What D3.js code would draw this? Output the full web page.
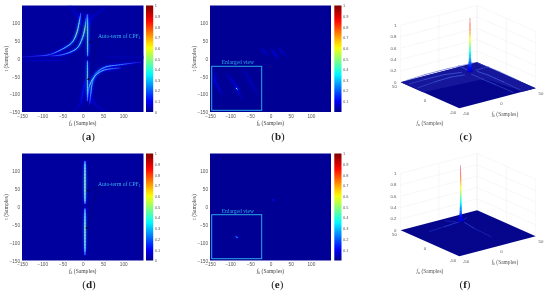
<!DOCTYPE html>
<html><head><meta charset="utf-8">
<script src="https://cdnjs.cloudflare.com/ajax/libs/d3/7.8.5/d3.min.js"></script>
<style>html,body{margin:0;padding:0;background:#fff;overflow:hidden}svg{display:block;filter:blur(.3px)}</style>
</head><body><svg id="c" width="550" height="296"></svg>
<script>
// ---------- data ----------
const xTickValues = [-150,-100,-50,0,50,100];
const yTickValues = [100,50,0,-50,-100,-150];
const cbTicksFull = [0,.1,.2,.3,.4,.5,.6,.7,.8,.9,1];
const cbTicksNoZero = [.1,.2,.3,.4,.5,.6,.7,.8,.9,1];
const zTicks = [0,.2,.4,.6,.8,1];
const captions = ["(a)","(b)","(c)","(d)","(e)","(f)"];

// panel (a) curves: [fx, t, value]
const aVertTop = [[12,125,.18],[12,105,.36],[12,80,.5],[12,50,.44],[12,25,.4],[12,8,.28]];
const aVertBot = [[11.5,-6,.28],[11.5,-30,.4],[11.5,-60,.44],[11.5,-90,.38],[11.5,-119,.18]];
const aTopOuter = [[-150,5,.05],[-110,8,.11],[-81,12,.2],[-40,34,.33],[-25,48,.38],[-15,72,.52],[-8.5,104,.42],[-5,128,.16]];
const aTopInner = [[-80,8,.09],[-48,12,.22],[-15,29,.36],[-2.6,53,.42],[5.5,86,.58],[9.7,123,.2]];
const aBotOuter = [[145,-9,.05],[92,-17,.22],[55,-24,.33],[34,-40,.4],[24.5,-63,.4],[19.5,-101,.28],[17,-128,.1]];
const aBotInner = [[92,-26,.13],[50,-33,.3],[30,-49,.37],[16,-78,.42],[12.5,-110,.24]];
const aFaint = [
  [[-31,147,.06],[-20,130,.08],[-11,118,.12],[-5,95,.1]],
  [[55,144,.06],[34,126,.08],[22,114,.11],[16,95,.1]],
  [[5.5,-63,.12],[-1,-101,.14],[-7,-129,.09],[-20,-147,.05]],
  [[17,-90,.09],[26,-120,.1],[42,-139,.07],[60,-148,.04]],
  [[-150,-5,.05],[-90,-5,.06],[-40,-5,.05]],
  [[60,5,.04],[100,5,.05],[150,4,.04]]
];
// panel (d) curves
const dVertTop = [[5.5,128,.2],[5.5,115,.36],[5.5,90,.45],[5.5,60,.5],[5.5,35,.44],[5.5,20,.36],[5.5,10,.2]];
const dVertBot = [[5.5,-5,.22],[5.5,-25,.34],[5.5,-60,.48],[5.5,-95,.42],[5.5,-118,.34],[5.5,-134,.14]];
// panels (b),(e) residual streaks: [fx, t, value]
const bStreaks = [
  [[-22,28,.05],[-16,20,.09],[-8,10,.05]],
  [[2,26,.05],[11,13,.12],[18,2,.05]],
  [[22,30,.05],[28,20,.08],[38,8,.05]]
];
const bStreaksInset = [
  [[-16,32,.05],[-14,20,.11],[-6,6,.05]],
  [[-1,30,.05],[9,18,.11],[16,2,.05]],
  [[20,36,.04],[27,22,.07],[36,6,.04]]
];
const bSpotInset = [[10.5,13.5,.3],[11,13,.4],[11.5,12.5,.3]];
const eSpot = [[6.8,20,.12],[7,19.5,.18],[7.2,19,.12]];
const eSpotInset = [[10.6,13.4,.25],[11,13,.34],[11.4,12.6,.25]];
// 3D panels: spike profile [z, half-width in samples], ridges [fx, fa, z]
const cSpike = [[.05,7],[.1,4.5],[.15,3.4],[.25,2.6],[.4,1.9],[.6,1.3],[.8,.8],[1,.25]];
const fSpike = [[.04,8],[.08,5],[.12,3.2],[.2,2.4],[.35,1.8],[.55,1.3],[.75,.9],[1.03,.25]];
const cPeak = [20.6,23.8], fPeak = [11,27];
const cRidges = [
  [[20,20,.03],[19,0,.04],[20,-20,.035],[22,-48,.02]],
  [[29,22,.04],[30,5,.05],[31,-20,.04],[32,-48,.02]],
  [[12,22,.04],[-5,24,.05],[-25,24,.04],[-48,23,.02]],
  [[14,30,.04],[-5,34,.05],[-30,36,.04],[-48,38,.02]],
  [[22,28,.05],[24,40,.04],[25,49,.03]],
  [[30,26,.04],[40,28,.03],[49,29,.02]],
  [[-45,48,.02],[-20,49,.03],[10,49,.03],[45,48,.02]],
  [[47,45,.02],[48,10,.03],[48,-25,.02]]
];
const cLightPatch = [[-50,50],[50,50],[50,-50],[34,-50],[25,5],[-50,12]];
const fRidges = [
  [[10,27,.05],[-10,27,.03],[-30,27,.015]],
  [[12,22,.05],[11,5,.03],[11,-25,.015]],
  [[14,30,.03],[26,36,.015]],
  [[8,32,.03],[3,42,.012]]
];
// ---------- helpers ----------
const jet = d3.scaleLinear().domain([0,.11,.36,.61,.86,1])
  .range(["#00008f","#0000ff","#00ffff","#ffff00","#ff0000","#800000"]).clamp(true);
const svg = d3.select("#c");
const defs = svg.append("defs");
[["g1",.8],["g2",.5],["g3",.25]].forEach(([id,s])=>{
  defs.append("filter").attr("id",id).attr("filterUnits","userSpaceOnUse").attr("x",0).attr("y",0).attr("width",550).attr("height",296)
  .append("feGaussianBlur").attr("stdDeviation",s);
});
const grad = defs.append("linearGradient").attr("id","jetg").attr("x1",0).attr("x2",0).attr("y1",1).attr("y2",0);
d3.range(0,1.001,.05).forEach(v=>grad.append("stop").attr("offset",v).attr("stop-color",jet(v)));

function drawCurve(g,pts,x,y,opts){
  const o=Object.assign({glow:2,core:.6,white:.45},opts);
  const line=d3.line().x(d=>x(d[0])).y(d=>y(d[1])).curve(d3.curveCatmullRom.alpha(.5));
  const tmp=g.append("path").attr("d",line(pts)).attr("fill","none");
  const len=tmp.node().getTotalLength();
  const chord=[0];
  for(let i=1;i<pts.length;i++)chord.push(chord[i-1]+Math.hypot(x(pts[i][0])-x(pts[i-1][0]),y(pts[i][1])-y(pts[i-1][1])));
  const val=d3.scaleLinear().domain(chord.map(c=>c/chord[chord.length-1]*len)).range(pts.map(p=>p[2]));
  const n=Math.max(2,Math.ceil(len/1.5));
  const gl=g.append("g").attr("filter","url(#g1)"),co=g.append("g").attr("filter","url(#g3)");
  for(let i=0;i<n;i++){
    const a=tmp.node().getPointAtLength(len*i/n),b=tmp.node().getPointAtLength(len*(i+1)/n),v=val(len*(i+.5)/n);
    gl.append("line").attr("x1",a.x).attr("y1",a.y).attr("x2",b.x).attr("y2",b.y)
      .attr("stroke",jet(v*.45)).attr("stroke-width",o.glow).attr("stroke-linecap","round");
    co.append("line").attr("x1",a.x).attr("y1",a.y).attr("x2",b.x).attr("y2",b.y)
      .attr("stroke",d3.interpolateRgb(jet(v),"#fff")(o.white*Math.min(1,v*3))).attr("stroke-width",o.core).attr("stroke-linecap","round");
  }
  tmp.remove();
}
let clipId=0;
function panel2D(L,T,W,H,cbX,cbTicks,bg){
  const g=svg.append("g");
  const x=d3.scaleLinear().domain([-150,150]).range([L,L+W]);
  const y=d3.scaleLinear().domain([-150,150]).range([T+H,T]);
  const id="clip"+(clipId++);
  defs.append("clipPath").attr("id",id).append("rect").attr("x",L).attr("y",T).attr("width",W).attr("height",H);
  g.append("rect").attr("x",L).attr("y",T).attr("width",W).attr("height",H).attr("fill",bg);
  const plot=g.append("g").attr("clip-path",`url(#${id})`);
  const ax=g.append("g").attr("transform",`translate(0,${T+H})`).call(d3.axisBottom(x).tickValues(xTickValues).tickSize(0).tickPadding(2.5).tickFormat(d3.format("d")));
  const ay=g.append("g").attr("transform",`translate(${L},0)`).call(d3.axisLeft(y).tickValues(yTickValues).tickSize(0).tickPadding(2).tickFormat(d3.format("d")));
  [ax,ay].forEach(a=>{a.select(".domain").remove();a.selectAll("text").attr("font-family","Liberation Sans").attr("font-size",4.7).attr("fill","#555");});
  const xl=g.append("text").attr("x",L+W/2).attr("y",T+H+12.6).attr("text-anchor","middle").attr("font-family","Liberation Serif").attr("font-size",5.6).attr("fill","#444");
  xl.append("tspan").attr("font-style","italic").text("f");
  xl.append("tspan").attr("font-size",4).attr("dy",1).attr("font-style","italic").text("k");
  xl.append("tspan").attr("dy",-1).text(" (Samples)");
  g.append("text").attr("transform",`translate(${L-14.5},${T+H/2}) rotate(-90)`).attr("text-anchor","middle").attr("font-family","Liberation Serif").attr("font-size",5.6).attr("fill","#444").text("t (Samples)");
  // colorbar
  const cy=d3.scaleLinear().domain([0,1]).range([T+H,T]);
  g.append("rect").attr("x",cbX).attr("y",T).attr("width",7.2).attr("height",H).attr("fill","url(#jetg)");
  const cb=g.append("g").attr("transform",`translate(${cbX+7.2},0)`).call(d3.axisRight(cy).tickValues(cbTicks).tickSize(0).tickPadding(1.5).tickFormat(d=>d));
  cb.select(".domain").remove();
  cb.selectAll("text").attr("font-family","Liberation Sans").attr("font-size",3.9).attr("fill","#555");
  return {plot,x,y,g};
}
function annotate(p,tx,ty,a1,a2){
  p.g.append("text").attr("x",tx).attr("y",ty).attr("font-family","Liberation Serif").attr("font-size",5.6).attr("fill","#35b4ee").text("Auto-term of CPF").append("tspan").attr("font-size",4).attr("dy",1).text("1");
  [a1,a2].forEach(a=>{
    p.g.append("line").attr("x1",tx).attr("y1",ty+1).attr("x2",a[0]).attr("y2",a[1]).attr("stroke","#001040").attr("stroke-width",.45).attr("opacity",.8);
    p.g.append("circle").attr("cx",a[0]).attr("cy",a[1]).attr("r",1).attr("fill","#000830");
  });
}
function insetFrame(p,L,T,W,H){
  p.g.append("rect").attr("x",L).attr("y",T).attr("width",W).attr("height",H).attr("fill","none").attr("stroke","#2ba8e8").attr("stroke-width",1);
  p.g.append("text").attr("x",L+10).attr("y",T-2.2).attr("font-family","Liberation Serif").attr("font-size",5.6).attr("fill","#2ba8e8").text("Enlarged view");
}
function panel3D(oy,spike,peak,ridges,patch,ridgeColor){
  const g=svg.append("g");
  const xFx=d3.scaleLinear().domain([-50,50]).range([0,76.4]);
  const yFx=d3.scaleLinear().domain([-50,50]).range([0,-20]);
  const xFa=d3.scaleLinear().domain([-50,50]).range([0,-58.6]);
  const yFa=d3.scaleLinear().domain([-50,50]).range([0,-26]);
  const zS=d3.scaleLinear().domain([0,1]).range([0,-57]);
  const P=(fx,fa,z=0)=>[459.3+xFx(fx)+xFa(fa),oy+108.3+yFx(fx)+yFa(fa)+zS(z)];
  const wall=g.append("g").attr("stroke","#e8e8e8").attr("stroke-width",.35).attr("fill","none");
  const ln=(a,b)=>wall.append("line").attr("x1",a[0]).attr("y1",a[1]).attr("x2",b[0]).attr("y2",b[1]);
  zTicks.forEach(z=>{ln(P(-50,50,z),P(50,50,z));ln(P(50,50,z),P(50,-50,z));});
  [-50,0,50].forEach(v=>{ln(P(v,50,0),P(v,50,1));ln(P(50,v,0),P(50,v,1));});
  zTicks.forEach(z=>g.append("text").attr("x",396.4).attr("y",P(-50,50,z)[1]+1.5).attr("text-anchor","end").attr("font-family","Liberation Sans").attr("font-size",4.3).attr("fill","#555").text(z));
  const poly=d3.line();
  g.append("path").attr("d",poly([P(-50,-50),P(50,-50),P(50,50),P(-50,50)])+"Z").attr("fill","#06068c");
  if(patch) g.append("path").attr("d",poly(patch.map(p=>P(p[0],p[1])))+"Z").attr("fill","#14169a").attr("filter","url(#g3)");
  const rg=g.append("g").attr("filter","url(#g2)");
  ridges.forEach(r=>{
    for(let i=0;i<r.length-1;i++){
      const a=P(r[i][0],r[i][1],r[i][2]),b=P(r[i+1][0],r[i+1][1],r[i+1][2]);
      rg.append("line").attr("x1",a[0]).attr("y1",a[1]).attr("x2",b[0]).attr("y2",b[1])
        .attr("stroke",ridgeColor).attr("stroke-opacity",Math.min(1,(r[i][2]+r[i+1][2])*10)).attr("stroke-width",1).attr("stroke-linecap","round");
    }
  });
  const sg=g.append("g").attr("filter","url(#g3)");
  const base=P(peak[0],peak[1]);
  const k=.46; // samples to px for the spike width
  for(let i=0;i<spike.length-1;i++){
    const [z0,w0]=spike[i],[z1,w1]=spike[i+1];
    const steps=8;
    for(let s=0;s<steps;s++){
      const a=z0+(z1-z0)*s/steps,b=z0+(z1-z0)*(s+1)/steps;
      const wa=w0+(w1-w0)*s/steps,wb=w0+(w1-w0)*(s+1)/steps;
      const ya=base[1]+zS(a),yb=base[1]+zS(b)-.3;
      sg.append("path").attr("d",poly([[base[0]-wa*k,ya],[base[0]+wa*k,ya],[base[0]+wb*k,yb],[base[0]-wb*k,yb]])+"Z").attr("fill",jet(a*.98));
    }
  }
  const t=(x,y,s,size=4.3,fam="Liberation Sans")=>g.append("text").attr("x",x).attr("y",oy+y).attr("text-anchor","middle").attr("font-family",fam).attr("font-size",size).attr("fill","#555").text(s);
  t(394.5,88,"50");t(425,102,"0");t(453,114,"-50");t(466,114.5,"-50");t(501.5,105,"0");t(541,95,"50");
  const lab=(x,y,sub)=>{
    const e=g.append("text").attr("x",x).attr("y",oy+y).attr("text-anchor","middle").attr("font-family","Liberation Serif").attr("font-size",5.4).attr("fill","#555");
    e.append("tspan").attr("font-style","italic").text("f");
    e.append("tspan").attr("font-size",3.9).attr("dy",1).attr("font-style","italic").text(sub);
    e.append("tspan").attr("dy",-1).text(" (Samples)");
  };
  lab(430,125,"α");lab(505,116,"k");
}
// ---------- panels ----------
const bgStrong=jet(.015), bgDark=jet(.006);
const pa=panel2D(22,5.5,121.5,106.5,146,cbTicksFull,bgStrong);
aFaint.forEach(c=>drawCurve(pa.plot,c,pa.x,pa.y,{glow:2.4,core:.6,white:0}));
[aTopOuter,aTopInner,aBotOuter,aBotInner,aVertTop,aVertBot].forEach(c=>drawCurve(pa.plot,c,pa.x,pa.y));
annotate(pa,98,37.5,[90,42.3],[88.3,79.3]);

const pb=panel2D(210,5.5,121,106.5,334.3,cbTicksNoZero,bgDark);
bStreaks.forEach(c=>drawCurve(pb.plot,c,pb.x,pb.y,{glow:2.6,core:.8,white:0}));
const bxI=d3.scaleLinear().domain([-19,41]).range([211.7,261.7]), byI=d3.scaleLinear().domain([-13,40]).range([110.3,66.3]);
bStreaksInset.forEach(c=>drawCurve(pb.plot,c,bxI,byI,{glow:2.8,core:.7,white:0}));
drawCurve(pb.plot,bSpotInset,bxI,byI,{glow:2,core:1,white:.3});
insetFrame(pb,211.7,66.3,50,44);

const pd=panel2D(22,153.5,121.5,107,146,cbTicksFull,bgStrong);
[dVertTop,dVertBot].forEach(c=>drawCurve(pd.plot,c,pd.x,pd.y,{glow:2.4,core:1,white:.55}));
annotate(pd,98,186,[88,190.7],[86.7,228]);

const pe=panel2D(210,153.5,121,107,334.3,cbTicksNoZero,bgDark);
drawCurve(pe.plot,eSpot,pe.x,pe.y,{glow:2,core:.8,white:0});
const exI=d3.scaleLinear().domain([-19,41]).range([211.7,261.7]), eyI=d3.scaleLinear().domain([-13,40]).range([258.7,214.7]);
drawCurve(pe.plot,eSpotInset,exI,eyI,{glow:2,core:1,white:.2});
insetFrame(pe,211.7,214.7,50,44);

panel3D(0,cSpike,cPeak,cRidges,cLightPatch,"#3a50d0");
panel3D(148,fSpike,fPeak,fRidges,null,"#2a40d8");

// captions
[[88.5,139.5],[278,139.5],[465.7,139.5],[89,288],[277.3,288],[465,288]].forEach((p,i)=>{
  svg.append("text").attr("x",p[0]).attr("y",p[1]).attr("text-anchor","middle").attr("font-family","Liberation Serif").attr("font-size",11).attr("fill","#222").each(function(){
    const t=d3.select(this);
    t.append("tspan").text("(");
    t.append("tspan").attr("font-weight","bold").text(captions[i].slice(1,2));
    t.append("tspan").text(")");
  });
});
</script></body></html>
